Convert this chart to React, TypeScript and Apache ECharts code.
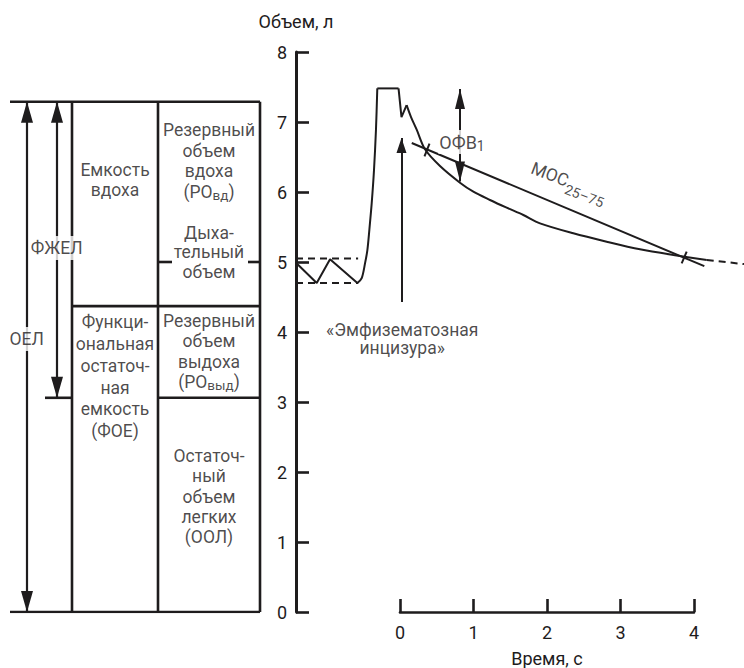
import React, { useEffect, useRef } from "react";
import * as echarts from "echarts";

const INK = "#1e1c1d";
const FONT = "Roboto, 'Noto Sans', 'DejaVu Sans', sans-serif";

// ---------- axes ----------
const volumeRange = [0, 8]; // л
const volumeStep = 1;
const timeShown = [0, 4]; // с
const timeStep = 1;
const timeFull = [-1.415, 4.68];

// ---------- spirogram: [t, с ; V, л] ----------
const tidalBreathing = [
  [-1.415, 4.99], [-1.133, 4.7], [-0.952, 5.04], [-0.58, 4.7],
];
const maxInspiration = [
  [-0.58, 4.7], [-0.521, 4.77], [-0.476, 4.98], [-0.444, 5.17], [-0.417, 5.46],
  [-0.385, 5.84], [-0.354, 6.31], [-0.327, 6.89], [-0.309, 7.48],
];
const inspiratoryHold = [[-0.309, 7.48], [-0.02, 7.48]];
const notchSegment = [[-0.02, 7.48], [0.02, 7.07], [0.09, 7.24]];
const forcedExpiration = [
  [0.09, 7.24], [0.15, 7.07], [0.227, 6.89], [0.34, 6.61], [0.544, 6.371],
  [0.816, 6.133], [0.998, 6.004], [1.224, 5.886], [1.451, 5.776], [1.678, 5.671],
  [1.905, 5.552], [2.358, 5.41], [2.812, 5.29], [3.265, 5.181], [3.719, 5.1],
  [4.173, 5.029],
];
const expirationTail = [[4.173, 5.029], [4.68, 4.97]];
const tidalLimits = [5.05, 4.7];
const tidalLimitSpan = [-1.415, -0.57];
const mocLine = [[0.16, 6.7], [4.14, 4.94]];
const mocMarks = [
  [[0.333, 6.51], [0.401, 6.69]],
  [[3.832, 4.981], [3.9, 5.147]],
];
const fev1Arrow = [0.816, 6.15, 7.47]; // t, V from, V to
const notchArrow = [0.02, 4.43, 6.77];

// ---------- lung volumes diagram (x: arbitrary column units, y: л) ----------
const lungLevels = [7.29, 4.37, 3.06, 0]; // ОЕЛ top, end of quiet expiration, ООЛ top, zero
const tidalMark = 5.0;
const columnX = [17, 47, 62, 148, 250]; // ОЕЛ arrow, ФЖЕЛ arrow, col1 left, col2 left, right edge
const diagramSpan = [0, 250];
const fvcStubX = 35;
const tidalStubs = [[148, 162], [238, 250]];

const tableTexts: [number, number, string][] = [
  [105, 6.17, "Емкость\nвдоха"],
  [199, 6.44, "Резервный\nобъем\nвдоха\n(РО{s|вд})"],
  [199, 5.14, "Дыха-\nтельный\nобъем"],
  [105, 3.36, "Функци-\nональная\nостаточ-\nная\nемкость\n(ФОЕ)"],
  [199, 3.72, "Резервный\nобъем\nвыдоха\n(РО{s|выд})"],
  [199, 1.65, "Остаточ-\nный\nобъем\nлегких\n(ООЛ)"],
  [46.7, 5.2, "ФЖЕЛ"],
  [16.7, 3.9, "ОЕЛ"],
];
const tableLineHeights = [19.5, 20.5, 19.5, 21.8, 20.3, 20.2, 20, 20];
const tableMasked = [false, false, false, false, false, false, true, true];

const plotTexts: [number, number, string][] = [
  [0.844, 6.714, "ОФВ{s|1}"],
  [0.03, 3.9, "«Эмфизематозная\nинцизура»"],
  [2.3, 6.15, "МОС{s|25–75}"],
];

function seg(axis: number, data: number[][], width = 2, extra: any = {}) {
  return {
    type: "line",
    xAxisIndex: axis,
    yAxisIndex: axis,
    data,
    symbol: "none",
    silent: true,
    z: 3,
    lineStyle: { color: INK, width, type: extra.dash ? [7, 5] : "solid" },
    smooth: extra.smooth || false,
  };
}

function arrow(axis: number, spec: number[], w: number, h: number, width = 2, both = true) {
  const [x, y0, y1] = spec;
  return {
    type: "line",
    xAxisIndex: axis,
    yAxisIndex: axis,
    data: [[x, y0]],
    symbol: "none",
    silent: true,
    z: 3,
    lineStyle: { color: INK, width },
    markLine: {
      silent: true,
      animation: false,
      symbol: [both ? "triangle" : "none", "triangle"],
      symbolSize: [w, h],
      symbolOffset: [[0, h / 2], [0, h / 2]],
      label: { show: false },
      lineStyle: { color: INK, width, type: "solid" },
      emphasis: { disabled: true },
      data: [[{ coord: [x, y0] }, { coord: [x, y1] }]],
    },
  };
}

const subRich = (size: number) => ({
  s: { fontSize: size, lineHeight: size, verticalAlign: "bottom", color: INK, fontFamily: FONT },
});

function buildOption() {
  const [top, vtLow, rvTop, zero] = lungLevels;
  const [xTlc, xFvc, xC1, xC2, xR] = columnX;
  const series: any[] = [];

  // diagram lines
  series.push(seg(0, [[diagramSpan[0], top], [diagramSpan[1], top]], 2.6));
  series.push(seg(0, [[diagramSpan[0], zero], [diagramSpan[1], zero]], 2.6));
  series.push(seg(0, [[xC1, vtLow], [xR, vtLow]], 2.6));
  series.push(seg(0, [[xC2, rvTop], [xR, rvTop]], 2.6));
  series.push(seg(0, [[fvcStubX, rvTop], [xC1, rvTop]], 2.6));
  tidalStubs.forEach((s) => series.push(seg(0, [[s[0], tidalMark], [s[1], tidalMark]], 2.6)));
  [xC1, xC2, xR].forEach((x) => series.push(seg(0, [[x, zero], [x, top]], 2.6)));
  series.push(arrow(0, [xTlc, zero, top], 12, 21, 2.2));
  series.push(arrow(0, [xFvc, rvTop, top], 12, 21, 2.2));

  series.push({
    type: "scatter",
    xAxisIndex: 0,
    yAxisIndex: 0,
    symbolSize: 1,
    silent: true,
    z: 10,
    itemStyle: { color: "rgba(0,0,0,0)" },
    data: tableTexts.map(([x, y, t], i) => ({
      value: [x, y],
      label: {
        show: true,
        position: "inside",
        formatter: t,
        fontSize: 17.5,
        lineHeight: tableLineHeights[i],
        color: INK,
        fontFamily: FONT,
        align: "center",
        verticalAlign: "middle",
        backgroundColor: tableMasked[i] ? "#ffffff" : "transparent",
        padding: tableMasked[i] ? [2, 1, 2, 1] : 0,
        rich: subRich(13.5),
      },
    })),
  });

  // spirogram
  series.push(seg(1, tidalBreathing, 2));
  series.push(seg(1, maxInspiration, 2, { smooth: 0.3 }));
  series.push(seg(1, inspiratoryHold, 2));
  series.push(seg(1, notchSegment, 2));
  series.push(seg(1, forcedExpiration, 2, { smooth: 0.3 }));
  series.push(seg(1, expirationTail, 2, { dash: true }));
  tidalLimits.forEach((v) =>
    series.push(seg(1, [[tidalLimitSpan[0], v], [tidalLimitSpan[1], v]], 1.8, { dash: true }))
  );
  series.push(seg(1, mocLine, 2));
  mocMarks.forEach((m) => series.push(seg(1, m, 2)));
  series.push(arrow(1, fev1Arrow, 10, 20, 2));
  series.push(arrow(1, notchArrow, 10, 15, 2, false));

  series.push({
    type: "scatter",
    xAxisIndex: 1,
    yAxisIndex: 1,
    symbolSize: 1,
    silent: true,
    z: 10,
    itemStyle: { color: "rgba(0,0,0,0)" },
    data: plotTexts.map(([x, y, t], i) => ({
      value: [x, y],
      label: {
        show: true,
        position: "inside",
        formatter: t,
        fontSize: i === 0 ? 18 : i === 1 ? 17.5 : 17.5,
        lineHeight: i === 1 ? 18.5 : i === 2 ? 30 : 22,
        rotate: i === 2 ? -21 : 0,
        color: INK,
        fontFamily: FONT,
        align: "center",
        verticalAlign: "middle",
        backgroundColor: i === 0 ? "#ffffff" : "transparent",
        padding: i === 0 ? [1, 1, 1, 1] : 0,
        rich: subRich(14),
      },
    })),
  });

  // keep time axis grid alive
  series.push({ type: "line", xAxisIndex: 2, yAxisIndex: 2, data: [], silent: true });

  const hidden = { show: false };
  return {
    animation: false,
    textStyle: { fontFamily: FONT },
    grid: [
      { left: 10, top: 52, width: 250, height: 560, outerBoundsMode: "none" },
      { left: 296, top: 52, width: 448, height: 560, outerBoundsMode: "none" },
      { left: 400, top: 52, width: 294, height: 560, outerBoundsMode: "none" },
    ],
    xAxis: [
      { gridIndex: 0, type: "value", min: diagramSpan[0], max: diagramSpan[1], ...hidden },
      { gridIndex: 1, type: "value", min: timeFull[0], max: timeFull[1], ...hidden },
      {
        gridIndex: 2,
        type: "value",
        min: timeShown[0],
        max: timeShown[1],
        interval: timeStep,
        axisLine: { show: true, onZero: false, lineStyle: { color: INK, width: 2.6 } },
        axisTick: { show: true, inside: true, length: 13, lineStyle: { color: INK, width: 2.6 } },
        axisLabel: { fontSize: 18, color: INK, margin: 11, fontFamily: FONT },
        splitLine: { show: false },
        name: "Время, с",
        nameLocation: "middle",
        nameGap: 37,
        nameTextStyle: { fontSize: 18, color: INK, fontFamily: FONT },
      },
    ],
    yAxis: [
      { gridIndex: 0, type: "value", min: volumeRange[0], max: volumeRange[1], ...hidden },
      {
        gridIndex: 1,
        type: "value",
        min: volumeRange[0],
        max: volumeRange[1],
        interval: volumeStep,
        axisLine: { show: true, onZero: false, lineStyle: { color: INK, width: 3 } },
        axisTick: { show: true, inside: true, length: 13, lineStyle: { color: INK, width: 2.6 } },
        axisLabel: { fontSize: 18, color: INK, margin: 9, fontFamily: FONT },
        splitLine: { show: false },
        name: "Объем, л",
        nameLocation: "end",
        nameGap: 22,
        nameTextStyle: { fontSize: 18, color: INK, fontFamily: FONT },
      },
      { gridIndex: 2, type: "value", min: volumeRange[0], max: volumeRange[1], ...hidden },
    ],
    series,
  };
}

export default function App() {
  const ref = useRef<HTMLDivElement>(null);
  useEffect(() => {
    if (!ref.current) return;
    const chart = echarts.init(ref.current, null, { renderer: "svg" });
    chart.setOption(buildOption() as any);
    return () => chart.dispose();
  }, []);
  return (
    <div
      ref={ref}
      style={{ position: "fixed", left: 0, top: 0, width: 744, height: 668, background: "#fff" }}
    />
  );
}
